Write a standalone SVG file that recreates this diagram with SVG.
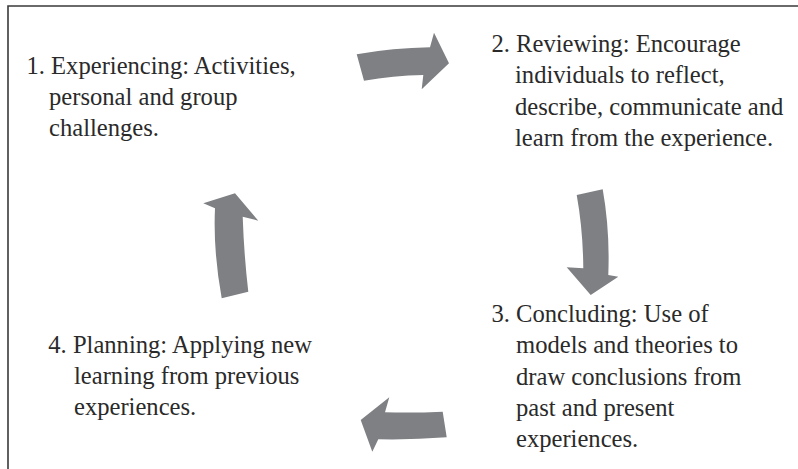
<svg xmlns="http://www.w3.org/2000/svg" width="798" height="469" viewBox="0 0 798 469">
  <style>
    .frame { fill: none; stroke: #3a3a3a; stroke-width: 1.6; }
    .label { font-family: "Liberation Serif", "Times New Roman", serif; font-size: 24.6px; fill: #2a2a2a; }
    .arrow { fill: #7f8084; stroke: none; }
  </style>
  <rect width="798" height="469" fill="#ffffff"/>
  <!-- outer frame: left and top edges only -->
  <path class="frame" d="M8,469 L8,6 L798,6"/>

  <g id="step1">
    <text class="label" x="26.5" y="74">1. Experiencing: Activities,</text>
    <text class="label" x="49" y="105">personal and group</text>
    <text class="label" x="49" y="136">challenges.</text>
  </g>
  <g id="step2">
    <text class="label" x="491.5" y="52">2. Reviewing: Encourage</text>
    <text class="label" x="515" y="83.3">individuals to reflect,</text>
    <text class="label" x="515" y="114.6">describe, communicate and</text>
    <text class="label" x="515" y="146">learn from the experience.</text>
  </g>
  <g id="step3">
    <text class="label" x="491.5" y="321.7">3. Concluding: Use of</text>
    <text class="label" x="516" y="353">models and theories to</text>
    <text class="label" x="516" y="384.5">draw conclusions from</text>
    <text class="label" x="516" y="416">past and present</text>
    <text class="label" x="516" y="447">experiences.</text>
  </g>
  <g id="step4">
    <text class="label" x="48.3" y="353">4. Planning: Applying new</text>
    <text class="label" x="74" y="384">learning from previous</text>
    <text class="label" x="74" y="415">experiences.</text>
  </g>

  <g id="connectors">
    <!-- 1 to 2 -->
    <path class="arrow" d="M356.7,54.3 Q393,47.8 430,47.3 L434,32.7 L449,63.3 L421.7,89.3 L423.3,75 Q393,75.6 364,80.7 Z"/>
    <!-- 2 to 3 -->
    <path class="arrow" d="M576.7,195 Q583,230 583.3,268.3 L566.7,267.3 L590.7,295 L618.3,276.7 L608.3,275 Q610,230 602.7,189.3 Z"/>
    <!-- 3 to 4 -->
    <path class="arrow" d="M442.7,411.7 Q414,413 385,412.3 L389.3,397.3 L360.7,420 L372.3,451.7 L378.3,439.3 Q412,440 446.7,437.3 Z"/>
    <!-- 4 to 1 -->
    <path class="arrow" d="M221.7,298.3 Q213,250 215,208.3 L203.3,203.3 L235,193.3 L258.3,220.7 L242.7,216.7 Q244,255 248.3,291.7 Z"/>
  </g>
</svg>
